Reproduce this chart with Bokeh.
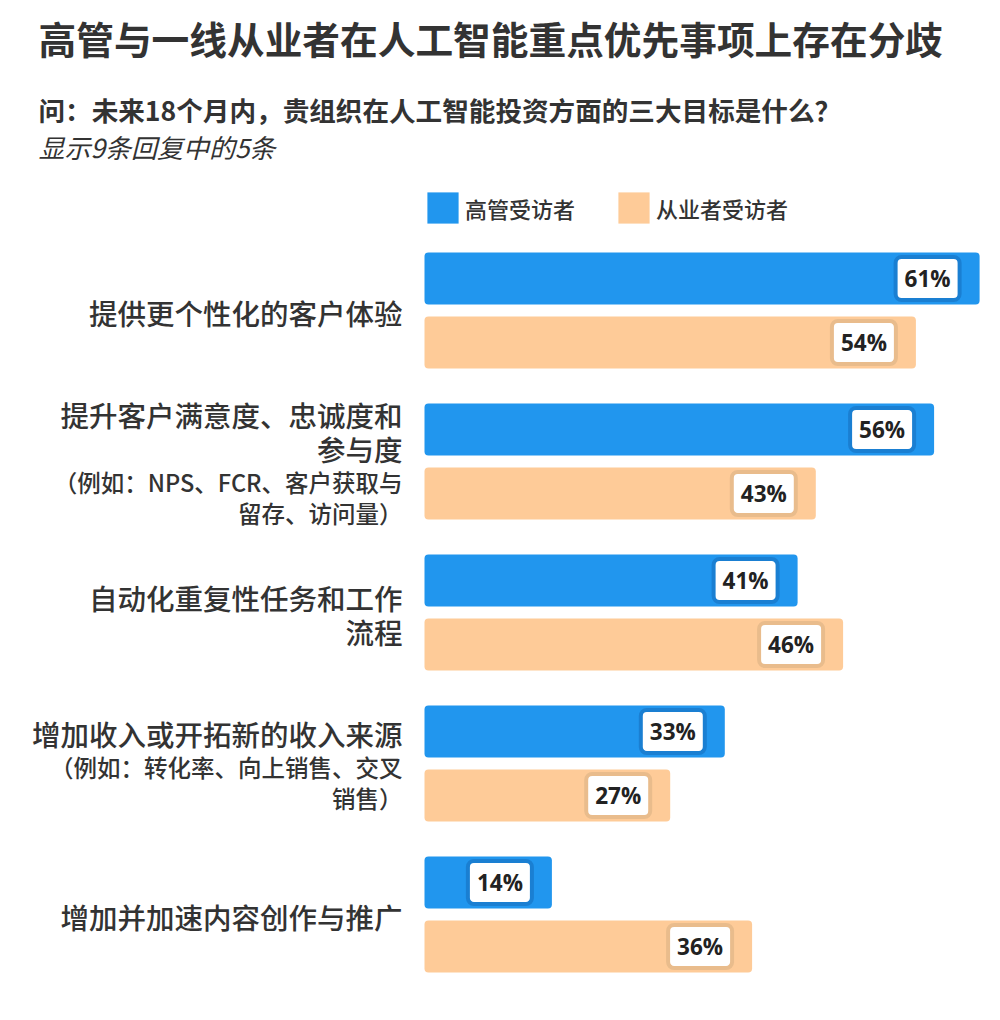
from bokeh.plotting import figure
from bokeh.models import ColumnDataSource, Range1d, Label, Legend, LegendItem
from bokeh.transform import dodge
from bokeh.core.properties import value
from bokeh.embed import file_html
from bokeh.resources import INLINE

title = "高管与一线从业者在人工智能重点优先事项上存在分歧"
question = "问：未来18个月内，贵组织在人工智能投资方面的三大目标是什么？"
shown = "显示9条回复中的5条"

series = ["高管受访者", "从业者受访者"]
categories = [
    "提供更个性化的客户体验",
    "提升客户满意度、忠诚度和\n参与度",
    "自动化重复性任务和工作\n流程",
    "增加收入或开拓新的收入来源",
    "增加并加速内容创作与推广",
]
notes = [
    "",
    "（例如：NPS、FCR、客户获取与\n留存、访问量）",
    "",
    "（例如：转化率、向上销售、交叉\n销售）",
    "",
]
executives = [61, 56, 41, 33, 14]
practitioners = [54, 43, 46, 27, 36]

BLUE, BLUE_EDGE = "#2196ee", "#1a7fd2"
ORANGE, ORANGE_EDGE = "#fecb98", "#e9bc8c"
INK = "#333333"
CJK = "Noto Sans CJK SC"
CJK_MED = "Noto Sans CJK SC Medium, Noto Sans CJK SC"

W, H = 990, 1010
PX = 9.1      # pixels per percentage point
ROW = 151     # pixels per category
x0, y0 = 424, 310

p = figure(width=W, height=H, output_backend="svg", toolbar_location=None,
           x_range=Range1d(-x0 / PX, (W - x0) / PX),
           y_range=Range1d((H - y0) / ROW, -y0 / ROW),
           x_axis_location=None, y_axis_location=None, min_border=0)
p.grid.visible = False
p.outline_line_color = None

idx = list(range(len(categories)))
src = ColumnDataSource(dict(
    y=idx,
    exe=executives,
    pra=practitioners,
    exe_lbl=[f"{v}%" for v in executives],
    pra_lbl=[f"{v}%" for v in practitioners],
))

off = 0.212
bh = 0.344
b1 = p.hbar(y=dodge("y", -off), left=0, right="exe", height=bh, source=src,
            fill_color=BLUE, line_color=None, border_radius=4)
b2 = p.hbar(y=dodge("y", off), left=0, right="pra", height=bh, source=src,
            fill_color=ORANGE, line_color=None, border_radius=4)

for col, d, edge in (("exe", -off, BLUE_EDGE), ("pra", off, ORANGE_EDGE)):
    p.text(x=col, y=dodge("y", d), text=col + "_lbl", source=src,
           x_offset=-20, text_align="right", text_baseline="middle",
           text_font=value("Open Sans"), text_font_style="bold",
           text_font_size="22.5px", text_color="#222222",
           background_fill_color="white", border_line_color=edge,
           border_line_width=4, border_radius=6,
           padding=dict(left=9, right=9, top=6, bottom=6))

# category labels, one row per text line
ly, ltxt, loff, lsize = [], [], [], []
for i, (cat, note) in enumerate(zip(categories, notes)):
    lines = [(t, "28.5px") for t in cat.split("\n")]
    pos = [34 * k for k in range(len(lines))]
    if note:
        subs = note.split("\n")
        start = pos[-1] + 34
        for k, t in enumerate(subs):
            lines.append((t, "23.5px"))
            pos.append(start + 31 * k)
    mid = (pos[0] + pos[-1]) / 2
    for (t, s), ps in zip(lines, pos):
        ly.append(i)
        ltxt.append(t)
        loff.append(ps - mid + 2)
        lsize.append(s)

lab = ColumnDataSource(dict(x=[0] * len(ly), y=ly, text=ltxt, yo=loff, size=lsize))
p.text(x="x", y="y", text="text", y_offset="yo", text_font_size="size", source=lab,
       x_offset=-22, text_align="right", text_baseline="middle",
       text_font=value(CJK_MED), text_color=INK)

p.add_layout(Label(x=38, y=H - 37, x_units="screen", y_units="screen", text=title,
                   text_font=CJK, text_font_size="37.7px", text_font_style="bold",
                   text_color=INK, text_baseline="middle"))
p.add_layout(Label(x=38, y=H - 109, x_units="screen", y_units="screen", text=question,
                   text_font=CJK, text_font_size="26.6px", text_font_style="bold",
                   text_color=INK, text_baseline="middle"))
p.add_layout(Label(x=38, y=H - 146, x_units="screen", y_units="screen", text=shown,
                   text_font=CJK, text_font_size="26px", text_font_style="italic",
                   text_color=INK, text_baseline="middle"))

legend = Legend(items=[LegendItem(label=series[0], renderers=[b1]),
                       LegendItem(label=series[1], renderers=[b2])],
                orientation="horizontal", location=(423, H - 227),
                glyph_width=39, glyph_height=39, label_standoff=3, spacing=39,
                padding=0, margin=0, border_line_color=None, background_fill_alpha=0,
                label_text_font=CJK_MED, label_text_font_size="22px",
                label_text_color=INK)
p.add_layout(legend)

open("out.html", "w").write(file_html(p, INLINE))
